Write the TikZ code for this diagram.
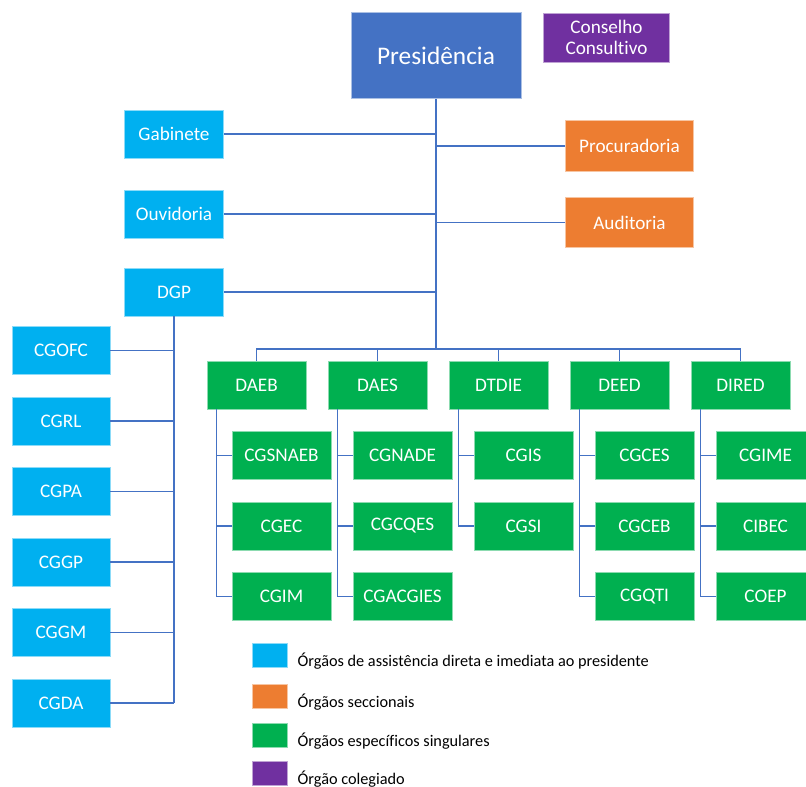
\documentclass[tikz,border=0pt]{standalone}
\usepackage{fontspec}
\setmainfont{Carlito}[Ligatures=NoCommon]
\usepackage{xcolor}
\usetikzlibrary{positioning}
\definecolor{presblue}{HTML}{4472C4}
\definecolor{cyanbox}{HTML}{00B0F0}
\definecolor{orangebox}{HTML}{ED7D31}
\definecolor{greenbox}{HTML}{00B050}
\definecolor{purplebox}{HTML}{7030A0}
\definecolor{wire}{HTML}{4472C4}
\tikzset{
  % one box style; the argument is the fill colour of the group
  unit/.style={fill=#1, draw=#1!45!white, line width=0.6pt, text=white, align=center,
               inner sep=2pt, minimum width=74.25pt, minimum height=36pt,
               font=\fontsize{14.4}{16}\selectfont},
  link/.style={draw=wire, line width=1.1pt},
  legtxt/.style={font=\fontsize{12.2}{14}\selectfont, anchor=base west, text=black, inner sep=0pt},
}

\begin{document}
\begin{tikzpicture}[x=0.75pt,y=-0.75pt]
  \useasboundingbox (0,0) rectangle (806,787);

  % top of the chart
  \node[unit=presblue, minimum width=127.5pt, minimum height=64.5pt,
        font=\fontsize{19}{22}\selectfont] (pres) at (436,55.5) {Presidência};
  \node[unit=purplebox, minimum width=95pt, minimum height=36.75pt] (cons) at (606.5,37.5) {Conselho\\Consultivo};

  % assistance and sectional units
  \node[unit=cyanbox] (gab) at (174,134) {Gabinete};
  \node[unit=cyanbox] (ouv) at (174,214) {Ouvidoria};
  \node[unit=cyanbox] (dgp) at (174,292) {DGP};
  \node[unit=orangebox, minimum width=96pt, minimum height=38pt] (proc) at (629.5,146) {Procuradoria};
  \node[unit=orangebox, minimum width=96pt, minimum height=38pt] (aud) at (629.5,222.5) {Auditoria};

  \coordinate (bus) at (436,349);
  \draw[link] (pres.south) -- (bus);
  \foreach \n in {gab,ouv,dgp}{
    \draw[link] (\n.east) -- (\n.east -| pres.south);
  }
  \foreach \n in {proc,aud}{
    \draw[link] (\n.west) -- (\n.west -| pres.south);
  }

  % DGP column
  \foreach \n [count=\i] in {CGOFC,CGRL,CGPA,CGGP,CGGM,CGDA}{
    \node[unit=cyanbox, minimum width=73.5pt] (\n) at (61,{350.5+70.5*(\i-1)}) {\n};
    \draw[link] (\n.east) -- (\n.east -| dgp.south);
  }
  \draw[link] (dgp.south) -- (dgp.south |- CGDA.east);

  % directorates and their units
  \foreach \d/\kids [count=\i] in {DAEB/{CGSNAEB,CGEC,CGIM}, DAES/{CGNADE,CGCQES,CGACGIES},
                                   DTDIE/{CGIS,CGSI}, DEED/{CGCES,CGCEB,CGQTI}, DIRED/{CGIME,CIBEC,COEP}}{
    \node[unit=greenbox] (\d) at ({256.5+121*(\i-1)},385) {\d};
    \draw[link] (bus) -| (\d.north);
    \foreach \k [count=\j] in \kids{
      \node[unit=greenbox] (\k) at ({281.5+121*(\i-1)},{385+70.5*\j}) {\k};
      \draw[link] ([xshift=7.5pt]\d.south west) |- (\k.west);
    }
  }

  % legend
  \foreach \c/\t/\y in {cyanbox/{Órgãos de assistência direta e imediata ao presidente}/655,
                        orangebox/{Órgãos seccionais}/696,
                        greenbox/{Órgãos específicos singulares}/735,
                        purplebox/{Órgão colegiado}/773.5}{
    \node[unit=\c, minimum width=26.25pt, minimum height=18pt] (key-\c) at (269.5,\y) {};
    \node[legtxt] (lbl-\c) at ([xshift=7.5pt,yshift=1pt]key-\c.south east) {\t};
  }
\end{tikzpicture}
\end{document}
